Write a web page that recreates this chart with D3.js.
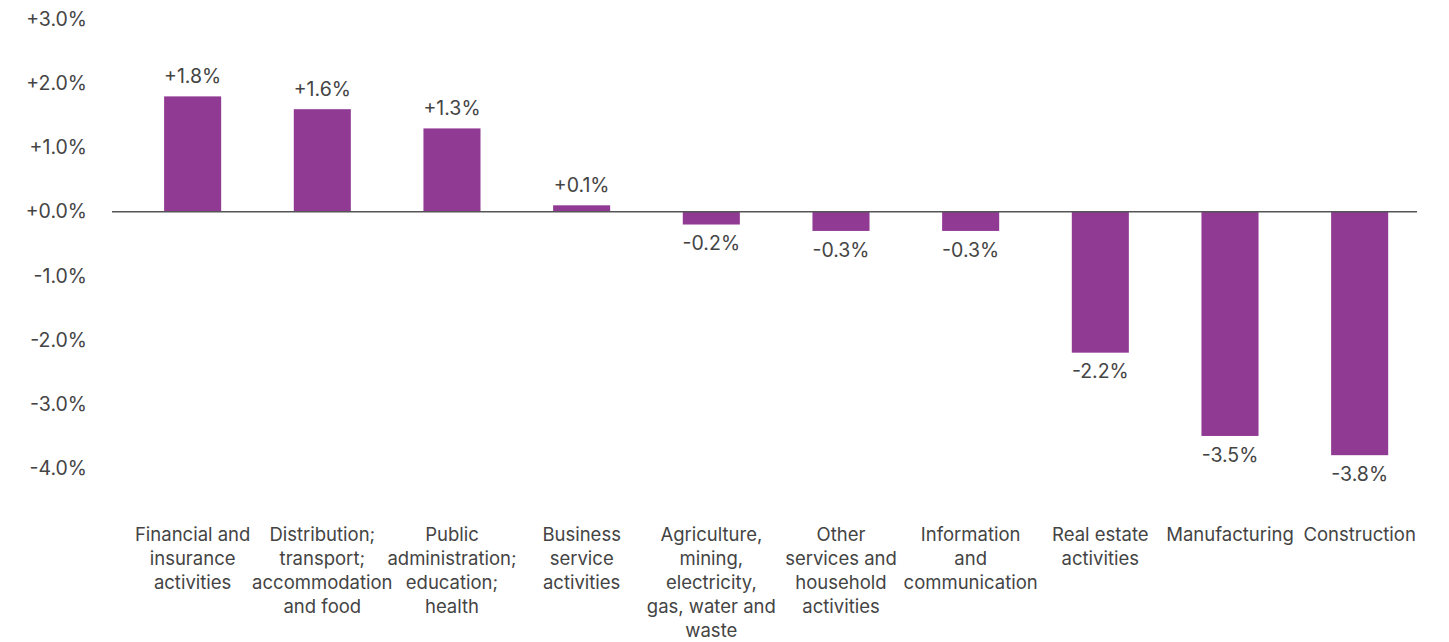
<!DOCTYPE html>
<html>
<head>
<meta charset="utf-8">
<script src="https://cdn.jsdelivr.net/npm/d3@7"></script>
<style>
  html, body { margin: 0; padding: 0; background: #fff; }
  svg { display: block; font-family: Inter, "Noto Sans", sans-serif; }
</style>
</head>
<body>
<svg id="chart" width="1449" height="642"></svg>
<script>
// Sectors, in display order, with their label lines
const categories = [
  "Financial and insurance activities",
  "Distribution; transport; accommodation and food",
  "Public administration; education; health",
  "Business service activities",
  "Agriculture, mining, electricity, gas, water and waste",
  "Other services and household activities",
  "Information and communication",
  "Real estate activities",
  "Manufacturing",
  "Construction"
];
const categoryLines = [
  ["Financial and", "insurance", "activities"],
  ["Distribution;", "transport;", "accommodation", "and food"],
  ["Public", "administration;", "education;", "health"],
  ["Business", "service", "activities"],
  ["Agriculture,", "mining,", "electricity,", "gas, water and", "waste"],
  ["Other", "services and", "household", "activities"],
  ["Information", "and", "communication"],
  ["Real estate", "activities"],
  ["Manufacturing"],
  ["Construction"]
];
// Change, percentage points
const values = [1.8, 1.6, 1.3, 0.1, -0.2, -0.3, -0.3, -2.2, -3.5, -3.8];
const yTicks = [3, 2, 1, 0, -1, -2, -3, -4];

const barColor = "#913a94";
const textColor = "#444";

const svg = d3.select("#chart");

const x = d3.scaleBand()
  .domain(categories)
  .range([127.8, 1424.5])
  .paddingInner(0.56)
  .paddingOuter(0.28);

const y = d3.scaleLinear()
  .domain([-4, 3])
  .range([468, 19.5]);

// Signed percentage with a plain hyphen for negatives
const fmt = v => (v >= 0 ? "+" : "-") + Math.abs(v).toFixed(1) + "%";

// Y axis labels (no axis line or tick marks)
const yAxis = d3.axisLeft(y)
  .tickValues(yTicks)
  .tickFormat(fmt)
  .tickSize(0)
  .tickPadding(0);
const yg = svg.append("g")
  .attr("transform", "translate(87,0)")
  .call(yAxis);
yg.select(".domain").remove();
yg.selectAll("text")
  .attr("fill", textColor)
  .style("font-size", "19.5px")
  .style("font-family", "Inter, 'Noto Sans', sans-serif");

// Bars
svg.append("g")
  .selectAll("rect")
  .data(values)
  .join("rect")
  .attr("x", (d, i) => x(categories[i]))
  .attr("width", x.bandwidth())
  .attr("y", d => y(Math.max(0, d)))
  .attr("height", d => Math.abs(y(d) - y(0)))
  .attr("fill", barColor);

// Zero line
svg.append("line")
  .attr("x1", 112)
  .attr("x2", 1417)
  .attr("y1", y(0))
  .attr("y2", y(0))
  .attr("stroke", "#555")
  .attr("stroke-width", 1.5);

// Value labels
svg.append("g")
  .selectAll("text")
  .data(values)
  .join("text")
  .attr("x", (d, i) => x(categories[i]) + x.bandwidth() / 2)
  .attr("y", d => d >= 0 ? y(d) - 20 : y(d) + 19)
  .attr("dy", "0.35em")
  .attr("text-anchor", "middle")
  .attr("fill", textColor)
  .style("font-size", "19.5px")
  .text(fmt);

// Category labels beneath the plot
const catG = svg.append("g")
  .selectAll("text")
  .data(categoryLines)
  .join("text")
  .attr("text-anchor", "middle")
  .attr("fill", textColor)
  .style("font-size", "18.5px")
  .attr("transform", (d, i) => `translate(${x(categories[i]) + x.bandwidth() / 2},535)`);
catG.selectAll("tspan")
  .data(d => d)
  .join("tspan")
  .attr("x", 0)
  .attr("y", (d, j) => j * 24)
  .attr("dy", "0.35em")
  .text(d => d);
</script>
</body>
</html>
